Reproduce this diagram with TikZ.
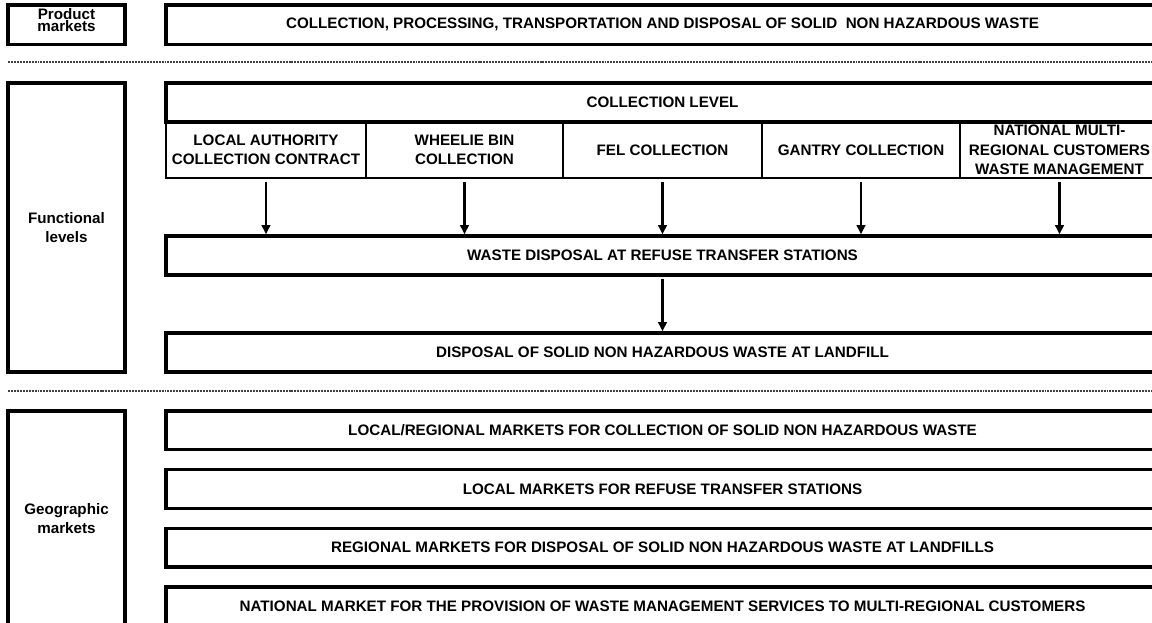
\documentclass[tikz,border=0pt]{standalone}
\usepackage{fontspec}
\setmainfont{Liberation Sans}
\usetikzlibrary{arrows.meta,calc}

\begin{document}
\begin{tikzpicture}[
            x=0.025cm,
            y=-0.025cm,
            font=\fontsize{10.8}{13.9}\selectfont\bfseries,
            box/.style={
                draw,
                line width=2.4pt,
                inner sep=0pt,
                align=center
            },
            cell/.style={
                draw,
                line width=1.6pt,
                inner sep=0pt,
                align=center
            },
            flow/.style={
                -{Triangle[width=6pt,length=6.5pt]},
                line width=1.8pt,
                shorten <=2pt
            },
            sep/.style={
                line width=0.9pt,
                dash pattern=on 1.4pt off 0.7pt,
                black!75
            }
        ]

% Layout parameters (pixels of the page)
            \def\pxu{0.025cm}
            \def\xLab{66.5}     % centre of the left label column
            \def\wLab{117}
            \def\xMid{662.5}    % centre of the wide boxes
            \def\wWide{993}
            \def\yGeoTop{430.25}
            \def\yGeoStep{58.7}

            \useasboundingbox (0,0) rectangle (1152,623);

% --- Product markets ---
            \node[box, minimum width=\wLab*\pxu, minimum height=39.5*\pxu, text depth=7pt]
                (prod) at (\xLab,24.75) {Product\\[-5.2pt]markets};
            \node[box, minimum width=\wWide*\pxu, minimum height=39.5*\pxu]
                (prodmkt) at (\xMid,24.75)
                {COLLECTION, PROCESSING, TRANSPORTATION AND DISPOSAL OF SOLID\ \ NON HAZARDOUS WASTE};

            \draw[sep] (8,62) -- (1160,62);

% --- Functional levels ---
            \node[box, minimum width=\wLab*\pxu, minimum height=289*\pxu] (func) at (\xLab,227.5) {Functional\\levels};

            \node[box, minimum width=\wWide*\pxu, minimum height=39*\pxu] (collhdr) at (\xMid,102.5) {COLLECTION LEVEL};

            \foreach \cx/\w/\txt [count=\i] in {
                266/200/{LOCAL AUTHORITY\\COLLECTION CONTRACT},
                464.5/197/{WHEELIE BIN\\COLLECTION},
                662.5/199/{FEL COLLECTION},
                861/198/{GANTRY COLLECTION},
                1059.5/199/{NATIONAL MULTI-\\REGIONAL CUSTOMERS\\WASTE MANAGEMENT}} {
                \node[cell, minimum width=\w*\pxu, minimum height=56*\pxu] (c\i) at (\cx,150) {\txt};
            }

            \node[box, minimum width=\wWide*\pxu, minimum height=39*\pxu] (disposal) at (\xMid,255.5)
                {WASTE DISPOSAL AT REFUSE TRANSFER STATIONS};
            \node[box, minimum width=\wWide*\pxu, minimum height=39*\pxu] (landfill) at (\xMid,352.5)
                {DISPOSAL OF SOLID NON HAZARDOUS WASTE AT LANDFILL};

% collection types feed the transfer stations
            \foreach \i in {1,...,5} {
                \draw[flow] (c\i.south) -- (c\i.south |- disposal.north);
            }
            \draw[flow] (disposal.south) -- (landfill.north);

            \draw[sep] (8,391) -- (1160,391);

% --- Geographic markets ---
            \node[box, minimum width=\wLab*\pxu, minimum height=215*\pxu] (geo) at (\xLab,518.5) {Geographic\\markets};

            \foreach \txt [count=\k] in {
                LOCAL/REGIONAL MARKETS FOR COLLECTION OF SOLID NON HAZARDOUS WASTE,
                LOCAL MARKETS FOR REFUSE TRANSFER STATIONS,
                REGIONAL MARKETS FOR DISPOSAL OF SOLID NON HAZARDOUS WASTE AT LANDFILLS,
                NATIONAL MARKET FOR THE PROVISION OF WASTE MANAGEMENT SERVICES TO MULTI-REGIONAL CUSTOMERS} {
                \node[box, minimum width=\wWide*\pxu, minimum height=38.5*\pxu]
                    (g\k) at (\xMid,{\yGeoTop+(\k-1)*\yGeoStep}) {\txt};
            }

        \end{tikzpicture}
\end{document}
